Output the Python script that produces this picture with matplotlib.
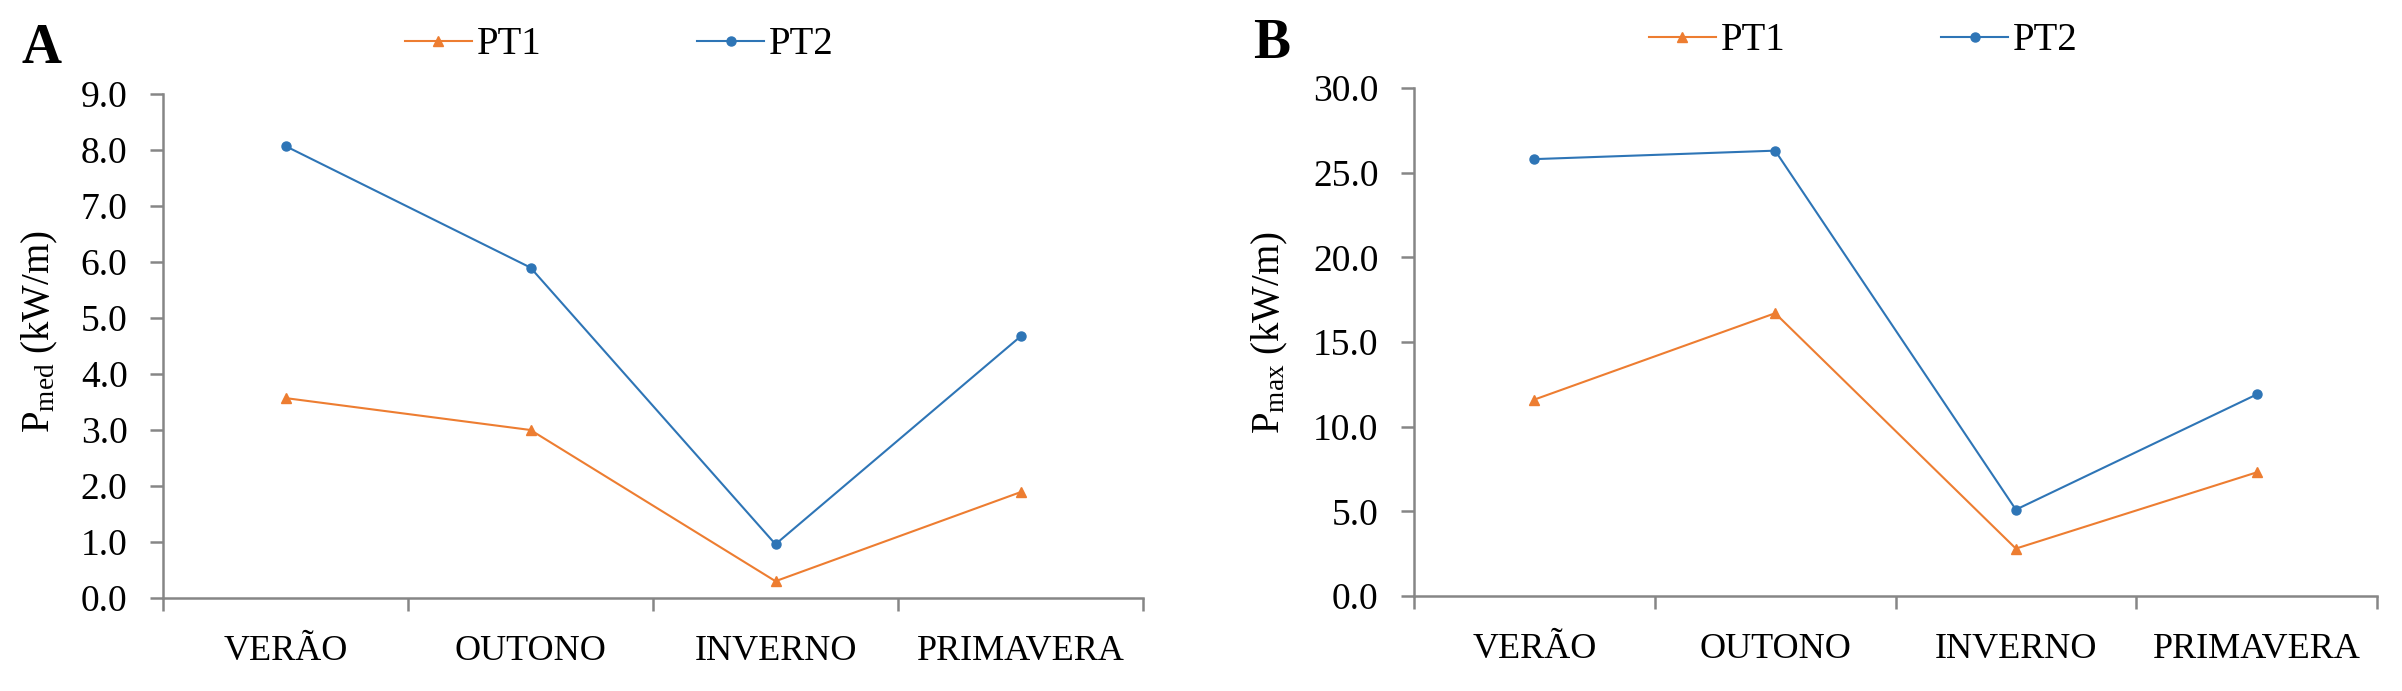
import matplotlib
matplotlib.use("Agg")
import matplotlib.pyplot as plt

plt.rcParams['font.family'] = ['Liberation Serif', 'DejaVu Serif']
plt.rcParams['mathtext.fontset'] = 'custom'
plt.rcParams['mathtext.rm'] = 'Liberation Serif'
plt.rcParams['mathtext.it'] = 'Liberation Serif:italic'

seasons = ["VERÃO", "OUTONO", "INVERNO", "PRIMAVERA"]
pmed_pt1 = [3.57, 3.00, 0.30, 1.89]
pmed_pt2 = [8.07, 5.90, 0.96, 4.67]
pmax_pt1 = [11.6, 16.7, 2.8, 7.3]
pmax_pt2 = [25.8, 26.3, 5.1, 11.9]
series_names = ["PT1", "PT2"]

W, H = 2402, 691
fig = plt.figure(figsize=(W / 100, H / 100), dpi=100)

ORANGE = "#ED7D31"
BLUE = "#2E75B6"
GRAY = "#868686"


def px_axes(left, right, top, bottom):
    return fig.add_axes([left / W, 1 - bottom / H, (right - left) / W, (bottom - top) / H])


def style(ax, ymax, ystep, ylabel, lab_x, lab_y):
    n = len(seasons)
    ax.set_xlim(0, n)
    ax.set_ylim(0, ymax)
    ax.set_xticks(range(n + 1))
    ax.set_xticklabels([])
    ax.set_xticks([i + 0.5 for i in range(n)], minor=True)
    ax.set_xticklabels(seasons, minor=True, fontsize=26)
    ax.tick_params(axis='x', which='major', direction='out', length=9.5, width=1.8, color=GRAY)
    ax.tick_params(axis='x', which='minor', length=0, pad=27)
    yt = [i * ystep for i in range(int(round(ymax / ystep)) + 1)]
    ax.set_yticks(yt)
    ax.set_yticklabels([f"{v:.1f}" for v in yt], fontsize=27)
    ax.tick_params(axis='y', direction='out', length=9.5, width=1.8, color=GRAY, pad=16)
    for s in ("top", "right"):
        ax.spines[s].set_visible(False)
    for s in ("left", "bottom"):
        ax.spines[s].set_color(GRAY)
        ax.spines[s].set_linewidth(1.8)
    ax.set_ylabel(ylabel, fontsize=28)
    ax.yaxis.set_label_coords(lab_x, lab_y)


def plot_series(ax, y1, y2):
    x = [i + 0.5 for i in range(len(seasons))]
    l1, = ax.plot(x, y1, color=ORANGE, lw=1.5, marker='^', ms=7, label=series_names[0])
    l2, = ax.plot(x, y2, color=BLUE, lw=1.5, marker='o', ms=6.5, label=series_names[1])
    return [l1, l2]


def legend(handles, x0, yc):
    fig.legend(handles=handles, loc='center left', bbox_to_anchor=(x0 / W, 1 - yc / H),
               ncol=2, frameon=False, fontsize=28, handlelength=1.72, handletextpad=0.13,
               columnspacing=4.0, borderpad=0, borderaxespad=0, numpoints=1)


# Panel A
axA = px_axes(163, 1143, 94, 598)
hA = plot_series(axA, pmed_pt1, pmed_pt2)
style(axA, 9.0, 1.0, r"P$_{\mathrm{med}}$ (kW/m)", -0.105, 0.528)
legend(hA, 405, 45)
fig.text(22 / W, 1 - 63 / H, "A", fontsize=40, fontweight='bold', ha='left', va='baseline')

# Panel B
axB = px_axes(1414, 2377, 88, 596)
hB = plot_series(axB, pmax_pt1, pmax_pt2)
style(axB, 30.0, 5.0, r"P$_{\mathrm{max}}$ (kW/m)", -0.129, 0.518)
legend(hB, 1649, 41)
fig.text(1253 / W, 1 - 58 / H, "B", fontsize=40, fontweight='bold', ha='left', va='baseline')

fig.savefig("out.png", dpi=100, facecolor='white')
